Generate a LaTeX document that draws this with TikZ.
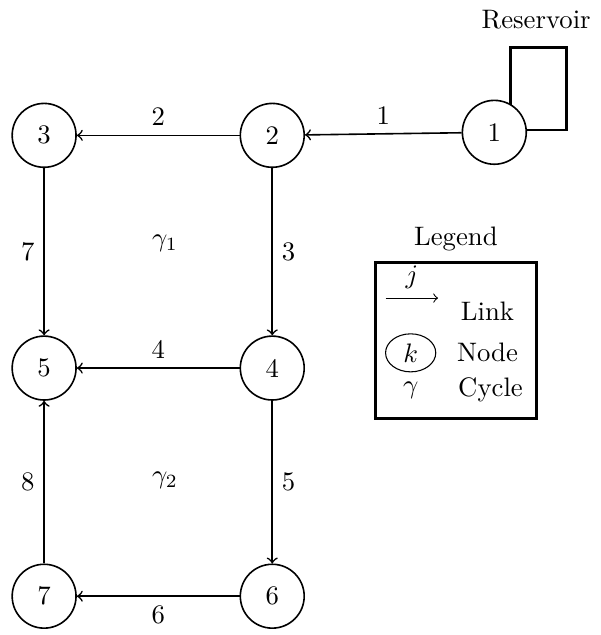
\documentclass[tikz,border=0pt]{standalone}
\usepackage{amsmath}
\usetikzlibrary{shapes.geometric}
\tikzset{
    junc/.style={draw,circle,fill=white,semithick,inner sep=0pt,minimum size=8.4mm},
    link/.style={->,semithick},
    resv/.style={draw,line width=1.1pt}
}

\begin{document}
\begin{tikzpicture}
        \useasboundingbox (-0.58,-0.51) rectangle (7.32,7.84);
        % reservoir behind node 1
        \draw [resv] (6.13,6.13) rectangle (6.87,7.21);
        \node (res) at (6.47,7.58) {Reservoir};
        % junctions
        \node [junc] (n1) at (5.92,6.1) {1};
        \node [junc] (n2) at (3,6.06) {2};
        \node [junc] (n3) at (0,6.06) {3};
        \node [junc] (n4) at (3,3) {4};
        \node [junc] (n5) at (0,3) {5};
        \node [junc] (n6) at (3,0) {6};
        \node [junc] (n7) at (0,0) {7};
        \foreach \a/\b/\j/\p in {1/2/1/above,2/3/2/above,3/5/7/left,2/4/3/right,
                4/5/4/above,4/6/5/right,6/7/6/below,7/5/8/left} {
            \draw [link] (n\a) -- node [\p] {\j} (n\b);
        }
        \node (g1) at (1.59,4.64) {$\gamma_1$};
        \node (g2) at (1.59,1.53) {$\gamma_2$};
        % legend
        \node [draw,line width=1.1pt,minimum width=2.11cm,minimum height=2.05cm] (legend) at (5.415,3.365) {};
        \node [above] (ltitle) at (legend.north) {Legend};
        \coordinate (la) at (4.49,3.92);
        \coordinate (lb) at (5.18,3.92);
        \draw [->] (la) -- node [above] {$j$} (lb);
        \node (llink) at (5.83,3.75) {Link};
        \node [draw,ellipse,inner sep=0pt,minimum width=6.6mm,minimum height=5mm] (lk) at (4.82,3.2) {$k$};
        \node (lnode) at (5.83,3.2) {Node};
        \node (lg) at (4.82,2.71) {$\gamma$};
        \node (lcyc) at (5.87,2.71) {Cycle};
    \end{tikzpicture}
\end{document}
